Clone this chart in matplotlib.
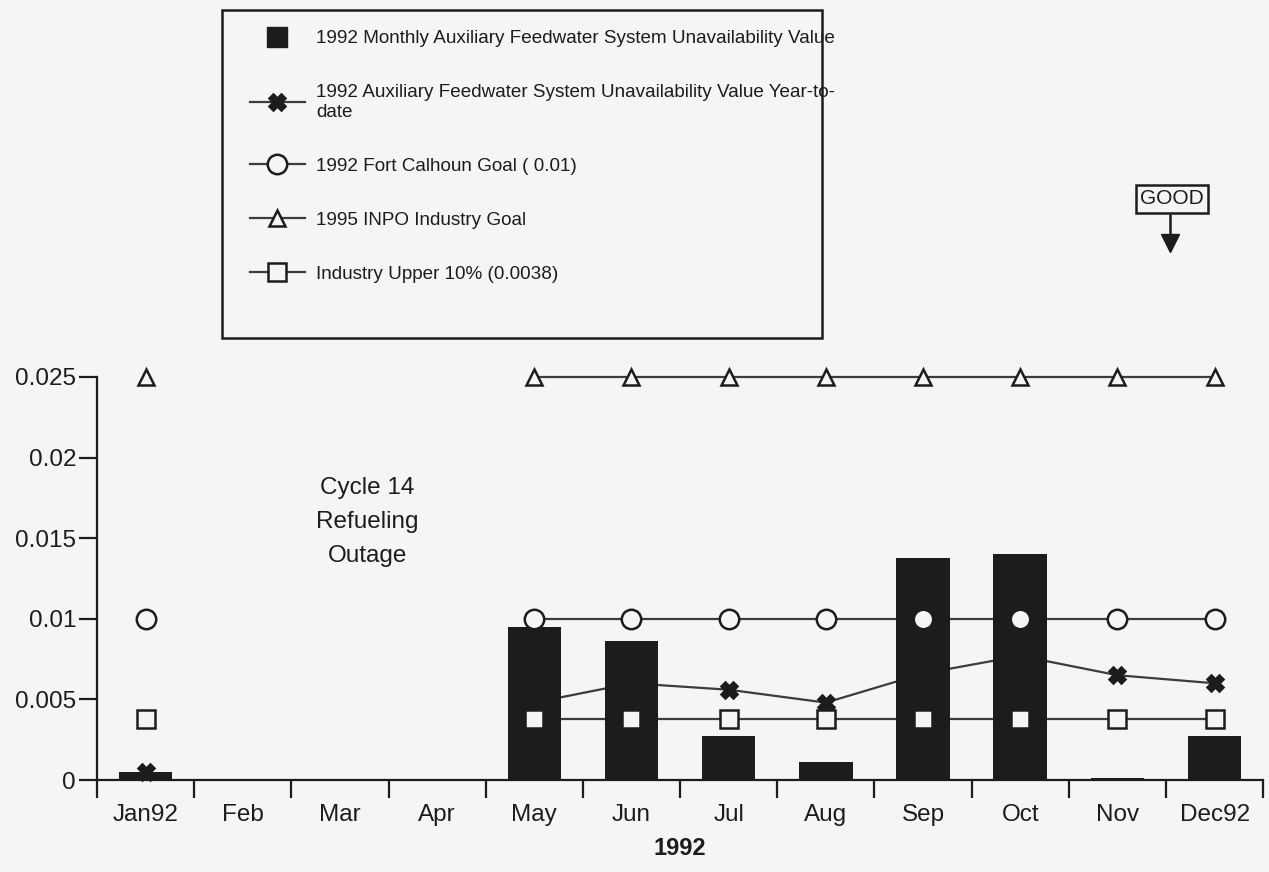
import numpy as np
import matplotlib.pyplot as plt
from matplotlib.lines import Line2D
from matplotlib.patches import Rectangle

plt.rcParams['font.family'] = ['Liberation Sans', 'DejaVu Sans']

# data
months = ['Jan92', 'Feb', 'Mar', 'Apr', 'May', 'Jun', 'Jul', 'Aug', 'Sep', 'Oct', 'Nov', 'Dec92']
nan = np.nan
monthly = [0.0005, 0, 0, 0, 0.0095, 0.0086, 0.0027, 0.0011, 0.0138, 0.0140, 0.0001, 0.0027]
ytd = [0.0005, nan, nan, nan, 0.0048, 0.0060, 0.0056, 0.0048, 0.0066, 0.0077, 0.0065, 0.0060]
fc_goal = [0.01, nan, nan, nan, 0.01, 0.01, 0.01, 0.01, 0.01, 0.01, 0.01, 0.01]
inpo_goal = [0.025, nan, nan, nan, 0.025, 0.025, 0.025, 0.025, 0.025, 0.025, 0.025, 0.025]
upper10 = [0.0038, nan, nan, nan, 0.0038, 0.0038, 0.0038, 0.0038, 0.0038, 0.0038, 0.0038, 0.0038]

labels = ['1992 Monthly Auxiliary Feedwater System Unavailability Value',
          '1992 Auxiliary Feedwater System Unavailability Value Year-to-\ndate',
          '1992 Fort Calhoun Goal ( 0.01)',
          '1995 INPO Industry Goal',
          'Industry Upper 10% (0.0038)']

bg = '#f5f5f3'
ink = '#1c1c1c'
lc = '#3c3c3c'

fig = plt.figure(figsize=(12.69, 8.72), dpi=100, facecolor=bg)
ax = fig.add_axes([0.0764, 0.1055, 0.919, 0.4622], facecolor=bg)

x = np.arange(len(months))
ax.bar(x, monthly, width=0.55, color=ink, zorder=2)

series = [(ytd, 'X', 12, ink), (fc_goal, 'o', 14, bg), (inpo_goal, '^', 12, bg), (upper10, 's', 13, bg)]
for vals, mk, ms, face in series:
    ax.plot(x, vals, color=lc, lw=1.6, zorder=1, clip_on=False)
    ax.plot(x, vals, ls='', marker=mk, ms=ms, mfc=face, mec=ink, mew=1.8, zorder=3, clip_on=False)

ax.set_xlim(-0.5, 11.5)
ax.set_ylim(0, 0.025)
ax.set_yticks([0, 0.005, 0.01, 0.015, 0.02, 0.025])
ax.set_yticklabels(['0', '0.005', '0.01', '0.015', '0.02', '0.025'])
ax.set_xticks(x)
ax.set_xticklabels(months)
ax.set_xticks(np.arange(-0.5, 12, 1), minor=True)
ax.tick_params(axis='x', which='major', length=0, pad=17, labelsize=17.5, colors=ink)
ax.tick_params(axis='x', which='minor', length=13, width=1.6, direction='out', color=ink)
ax.tick_params(axis='y', length=13, width=1.6, pad=2, labelsize=17.5, colors=ink)
for s in ['top', 'right']:
    ax.spines[s].set_visible(False)
for s in ['left', 'bottom']:
    ax.spines[s].set_linewidth(1.6)
    ax.spines[s].set_color(ink)
ax.set_xlabel('1992', fontsize=17, fontweight='bold', color=ink, labelpad=8)

ax.text(2.28, 0.0160, 'Cycle 14\nRefueling\nOutage', ha='center', va='center',
        fontsize=17.5, color=ink, linespacing=1.7)

# legend, with the frame drawn as a plain rectangle
handles = [Line2D([], [], ls='', marker='s', ms=15, mfc=ink, mec=ink)]
for vals, mk, ms, face in series:
    handles.append(Line2D([], [], color=lc, lw=1.6, marker=mk, ms=ms, mfc=face, mec=ink, mew=1.8))
leg = fig.legend(handles, labels, loc='upper left', bbox_to_anchor=(250 / 1269, 1 - 30 / 872),
                 fontsize=13.6, frameon=False, labelspacing=1.95, handlelength=2.9,
                 handletextpad=0.6, borderpad=0, borderaxespad=0)
for t in leg.get_texts():
    t.set_color(ink)
fig.add_artist(Rectangle((222 / 1269, 1 - 338 / 872), 600 / 1269, 328 / 872,
                         transform=fig.transFigure, fill=False, ec=ink, lw=1.8))

# GOOD marker
fig.text(1172 / 1269, 1 - 199 / 872, 'GOOD', ha='center', va='center', fontsize=15, color=ink,
         bbox=dict(boxstyle='square,pad=0.2', fc=bg, ec=ink, lw=1.8))
fig.add_artist(Line2D([1170 / 1269, 1170 / 1269], [1 - 215 / 872, 1 - 236 / 872],
                      color=ink, lw=1.8))
fig.add_artist(Line2D([1170 / 1269], [1 - 243 / 872], marker='v', ms=13, color=ink))

fig.savefig('out.png', dpi=100, facecolor=bg)
